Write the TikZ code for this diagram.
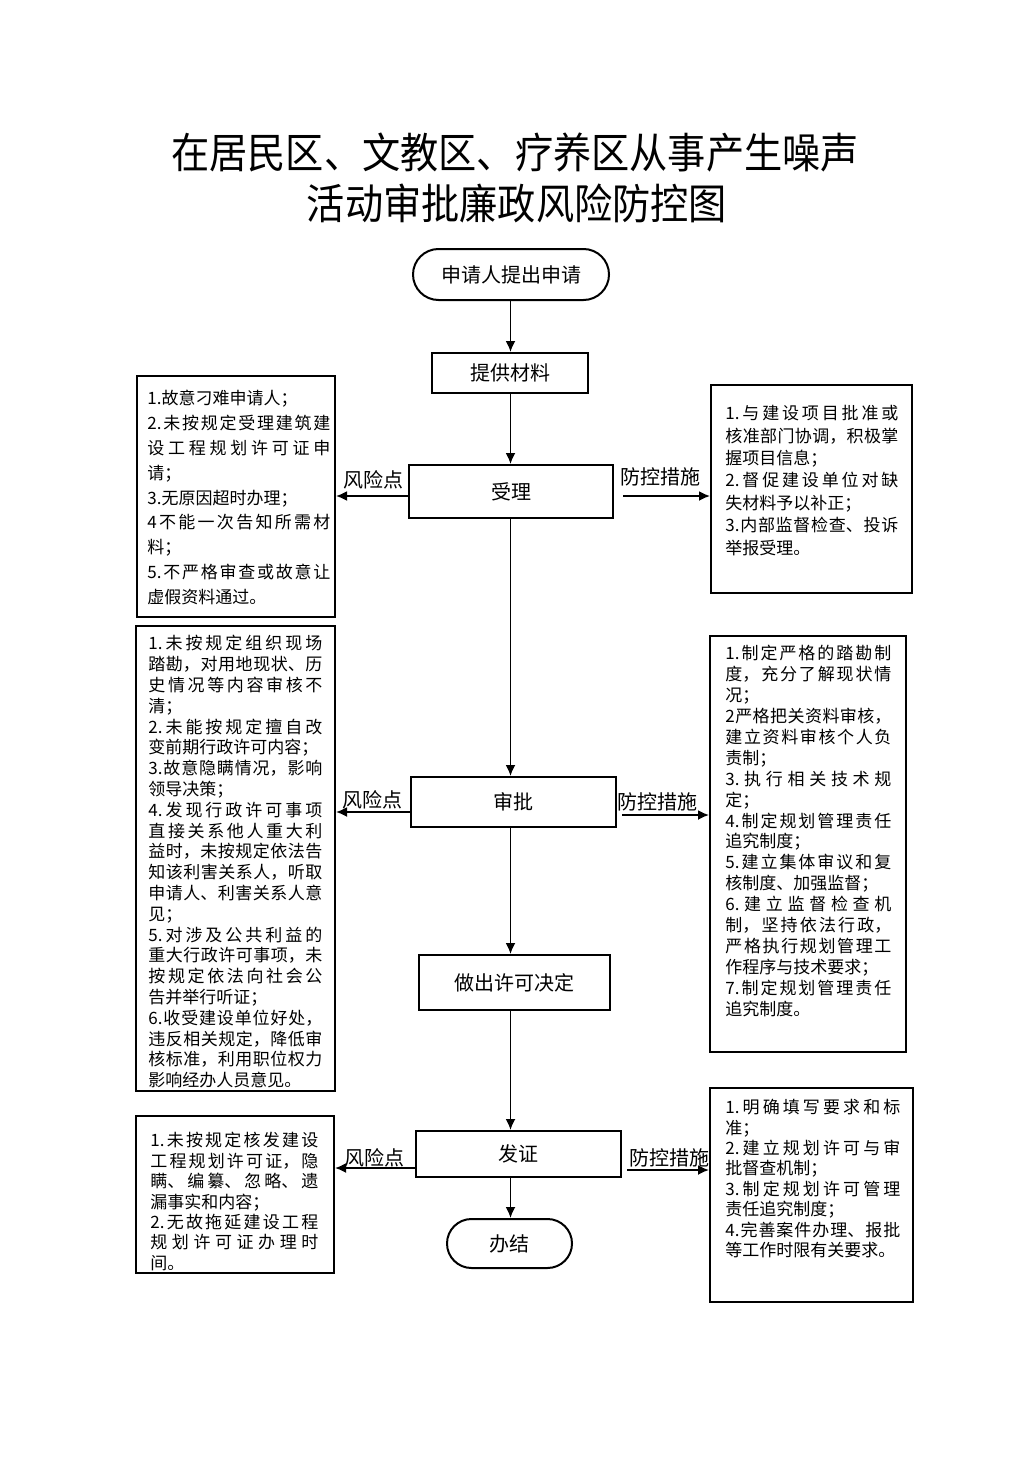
\documentclass[tikz,border=0pt]{standalone}
\usepackage{fontspec}
\setmainfont{Noto Sans CJK SC}
\usetikzlibrary{arrows.meta,shapes.misc,positioning}
\XeTeXlinebreaklocale "zh"
\XeTeXlinebreakskip=0pt plus 4pt
\XeTeXlinebreakpenalty=10000

\begin{document}
\begin{tikzpicture}[x=0.5pt,y=-0.5pt,
	box/.style={draw, line width=1pt, inner sep=0pt, font=\fontsize{10}{12}\selectfont},
	terminal/.style={box, rounded rectangle},
	frame/.style={draw, line width=1pt, inner sep=0pt},
	listtext/.style={anchor=north west, inner sep=0pt, align=justify, font=\fontsize{8.5}{#1}\selectfont},
	tag/.style={inner sep=0pt, font=\fontsize{10}{12}\selectfont},
	heading/.style={inner sep=0pt, font=\fontsize{19.1}{22}\selectfont, yscale=1.1, transform shape},
	flow/.style={line width=0.9pt, -{Latex[length=5.5pt,width=5pt]}}]
	\fill[white] (0,0) rectangle (1033,1461);
	\useasboundingbox (0,0) rectangle (1033,1461);
	% title
	\node[heading] (title1) at (515,153) {在居民区、文教区、疗养区从事产生噪声};
	\node[heading] (title2) at (517,203) {活动审批廉政风险防控图};
	% main flow
	\node[terminal, minimum width=98pt, minimum height=25.5pt] (apply) at (511,274.5) {申请人提出申请};
	\node[box, minimum width=78pt, minimum height=20pt] (material) at (510,373) {提供材料};
	\node[box, minimum width=102pt, minimum height=26.5pt] (accept) at (511,491.5) {受理};
	\node[box, minimum width=102.5pt, minimum height=25pt] (approve) at (513.5,802) {审批};
	\node[box, minimum width=95.5pt, minimum height=27.5pt] (decide) at (514.5,982.5) {做出许可决定};
	\node[box, minimum width=102.5pt, minimum height=23pt] (issue) at (518.5,1154) {发证};
	\node[terminal, minimum width=62.5pt, minimum height=24.5pt] (finish) at (509.5,1243.5) {办结};
	\coordinate (spine) at (510.5,0);
	\draw[flow] (apply.south -| spine) -- (material.north -| spine);
	\draw[flow] (material.south -| spine) -- (accept.north -| spine);
	\draw[flow] (accept.south -| spine) -- (approve.north -| spine);
	\draw[flow] (approve.south -| spine) -- (decide.north -| spine);
	\draw[flow] (decide.south -| spine) -- (issue.north -| spine);
	\draw[flow] (issue.south -| spine) -- (finish.north -| spine);
	% risk points (left)
	\node[frame, minimum width=99pt, minimum height=120.5pt] (risk1) at (236,496.5) {};
	\node[listtext=12.4pt, text width=91.5pt] (risk1txt) at (147,390) {1.故意刁难申请人；\\
		2.未按规定受理建筑建\linebreak 设工程规划许可证申\linebreak 请；\\
		3.无原因超时办理；\\
		4不能一次告知所需材\linebreak 料；\\
		5.不严格审查或故意让\linebreak 虚假资料通过。};
	\node[frame, minimum width=99.5pt, minimum height=232.5pt] (risk2) at (235.5,858.5) {};
	\node[listtext=10.4pt, text width=87pt] (risk2txt) at (148,635) {1.未按规定组织现场\linebreak 踏勘，对用地现状、历\linebreak 史情况等内容审核不\linebreak 清；\\
		2.未能按规定擅自改\linebreak 变前期行政许可内容；\\
		3.故意隐瞒情况，影响\linebreak 领导决策；\\
		4.发现行政许可事项\linebreak 直接关系他人重大利\linebreak 益时，未按规定依法告\linebreak 知该利害关系人，听取\linebreak 申请人、利害关系人意\linebreak 见；\\
		5.对涉及公共利益的\linebreak 重大行政许可事项，未\linebreak 按规定依法向社会公\linebreak 告并举行听证；\\
		6.收受建设单位好处，\linebreak 违反相关规定，降低审\linebreak 核标准，利用职位权力\linebreak 影响经办人员意见。};
	\node[frame, minimum width=99pt, minimum height=78.5pt] (risk3) at (235,1194.5) {};
	\node[listtext=10.2pt, text width=84pt] (risk3txt) at (150,1132) {1.未按规定核发建设\linebreak 工程规划许可证，隐\linebreak 瞒、编纂、忽略、遗\linebreak 漏事实和内容；\\
		2.无故拖延建设工程\linebreak 规划许可证办理时\linebreak 间。};
	% control measures (right)
	\node[frame, minimum width=100.5pt, minimum height=104pt] (ctrl1) at (811.5,488.5) {};
	\node[listtext=11.2pt, text width=86.5pt] (ctrl1txt) at (725,405) {1.与建设项目批准或\linebreak 核准部门协调，积极掌\linebreak 握项目信息；\\
		2.督促建设单位对缺\linebreak 失材料予以补正；\\
		3.内部监督检查、投诉\linebreak 举报受理。};
	\node[frame, minimum width=98pt, minimum height=208pt] (ctrl2) at (808,844) {};
	\node[listtext=10.45pt, text width=83pt] (ctrl2txt) at (725,645) {1.制定严格的踏勘制\linebreak 度，充分了解现状情\linebreak 况；\\
		2严格把关资料审核，\linebreak 建立资料审核个人负\linebreak 责制；\\
		3.执行相关技术规\linebreak 定；\\
		4.制定规划管理责任\linebreak 追究制度；\\
		5.建立集体审议和复\linebreak 核制度、加强监督；\\
		6.建立监督检查机\linebreak 制，坚持依法行政，\linebreak 严格执行规划管理工\linebreak 作程序与技术要求；\\
		7.制定规划管理责任\linebreak 追究制度。};
	\node[frame, minimum width=101.5pt, minimum height=107pt] (ctrl3) at (811.5,1195) {};
	\node[listtext=10.2pt, text width=87.5pt] (ctrl3txt) at (725,1099) {1.明确填写要求和标\linebreak 准；\\
		2.建立规划许可与审\linebreak 批督查机制；\\
		3.制定规划许可管理\linebreak 责任追究制度；\\
		4.完善案件办理、报批\linebreak 等工作时限有关要求。};
	% side arrows
	\coordinate (acceptL) at ([yshift=-2.25pt]accept.west);
	\coordinate (acceptR) at ([xshift=4.5pt,yshift=-2.25pt]accept.east);
	\coordinate (approveL) at ([yshift=-5pt]approve.west);
	\coordinate (approveR) at ([xshift=2.5pt,yshift=-6.5pt]approve.east);
	\coordinate (issueL) at ([yshift=-7pt]issue.west);
	\coordinate (issueR) at ([xshift=2.5pt,yshift=-8pt]issue.east);
	\draw[flow] (acceptL) -- (acceptL -| risk1.east);
	\draw[flow] (acceptR) -- (acceptR -| ctrl1.west);
	\draw[flow] (approveL) -- (approveL -| risk2.east);
	\draw[flow] (approveR) -- (approveR -| ctrl2.west);
	\draw[flow] (issueL) -- (issueL -| risk3.east);
	\draw[flow] (issueR) -- (issueR -| ctrl3.west);
	\node[tag] (riskA) at (373,480) {风险点};
	\node[tag] (ctrlA) at (660,477) {防控措施};
	\node[tag] (riskB) at (372,800) {风险点};
	\node[tag] (ctrlB) at (657,802) {防控措施};
	\node[tag] (riskC) at (374,1158) {风险点};
	\node[tag] (ctrlC) at (669,1158) {防控措施};
\end{tikzpicture}
\end{document}
